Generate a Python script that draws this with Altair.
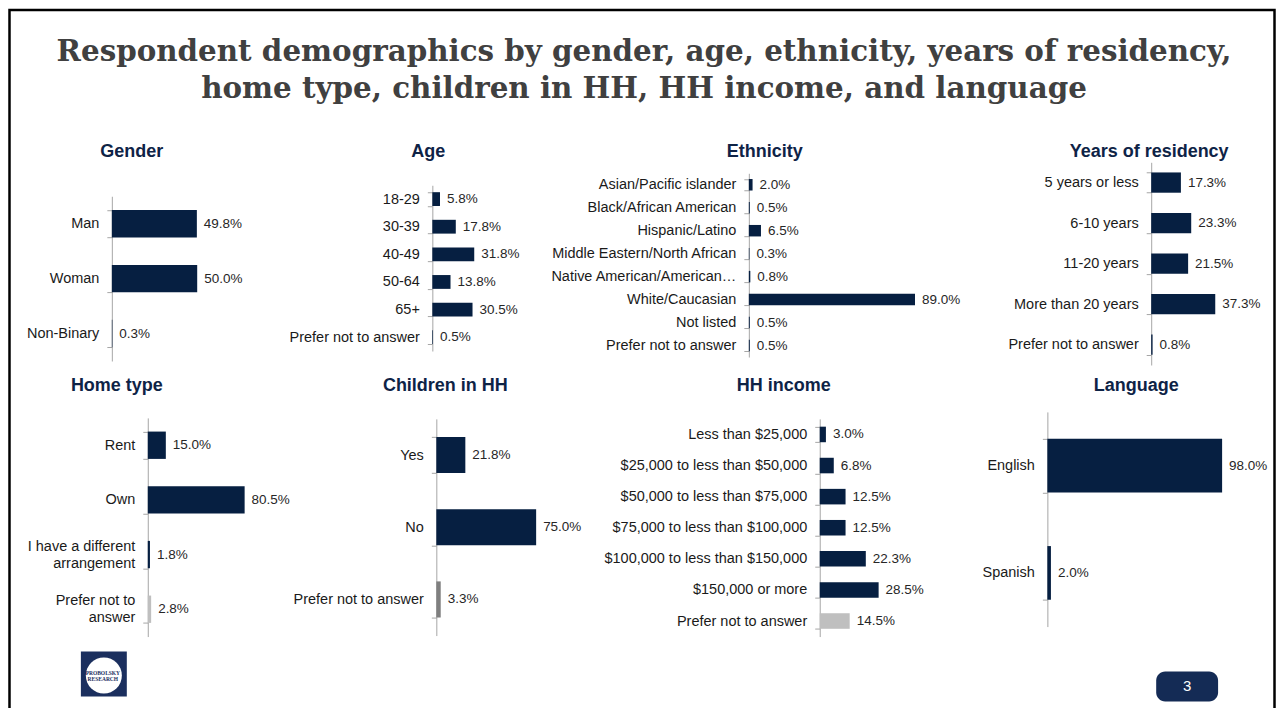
import altair as alt
import pandas as pd

# ---------------- data ----------------
gender_cats = ["Man", "Woman", "Non-Binary"]
gender_vals = [49.8, 50.0, 0.3]

age_cats = ["18-29", "30-39", "40-49", "50-64", "65+", "Prefer not to answer"]
age_vals = [5.8, 17.8, 31.8, 13.8, 30.5, 0.5]

eth_cats = ["Asian/Pacific islander", "Black/African American", "Hispanic/Latino",
            "Middle Eastern/North African", "Native American/American Indian",
            "White/Caucasian", "Not listed", "Prefer not to answer"]
eth_vals = [2.0, 0.5, 6.5, 0.3, 0.8, 89.0, 0.5, 0.5]

res_cats = ["5 years or less", "6-10 years", "11-20 years", "More than 20 years",
            "Prefer not to answer"]
res_vals = [17.3, 23.3, 21.5, 37.3, 0.8]

home_cats = ["Rent", "Own", "I have a different|arrangement", "Prefer not to|answer"]
home_vals = [15.0, 80.5, 1.8, 2.8]

kids_cats = ["Yes", "No", "Prefer not to answer"]
kids_vals = [21.8, 75.0, 3.3]

inc_cats = ["Less than $25,000", "$25,000 to less than $50,000",
            "$50,000 to less than $75,000", "$75,000 to less than $100,000",
            "$100,000 to less than $150,000", "$150,000 or more", "Prefer not to answer"]
inc_vals = [3.0, 6.8, 12.5, 12.5, 22.3, 28.5, 14.5]

lang_cats = ["English", "Spanish"]
lang_vals = [98.0, 2.0]

title_lines = ["Respondent demographics by gender, age, ethnicity, years of residency,",
               "home type, children in HH, HH income, and language"]

NAVY = "#061F41"
LGRAY = "#BFBFBF"
MGRAY = "#7F7F7F"
FONT = "Liberation Sans"
OX, OY = 8, 8
W, H = 1270, 700

dummy = pd.DataFrame({"d": [0]})


def panel(cats, vals, colors, title, ax, y0, y1, k, tx, ty, label_limit=260):
    df = pd.DataFrame({"cat": cats, "val": vals, "col": colors,
                       "lab": [f"{v:.1f}%" for v in vals]})
    y = alt.Y("cat:N", sort=cats, title=None,
              scale=alt.Scale(range=[y0 - OY, y1 - OY], paddingInner=0.5, paddingOuter=0.25),
              axis=alt.Axis(orient="left", offset=-(ax - OX), domainColor="#A6A6A6",
                            tickColor="#A6A6A6", tickSize=5, tickBand="extent",
                            labelPadding=8, labelFont=FONT, labelFontSize=14.5,
                            labelColor="#1a1a1a", labelLimit=label_limit,
                            labelExpr="split(datum.label, '|')", labelLineHeight=17,
                            labelOffset={"condition": {"test": "indexof(datum.label, '|') >= 0",
                                                       "value": -8.5}, "value": 0},
                            grid=False))
    x = alt.X("val:Q", scale=alt.Scale(domain=[0, 100], range=[ax - OX, ax - OX + 100 * k]),
              axis=None)
    bars = alt.Chart(df).mark_bar().encode(x=x, y=y, color=alt.Color("col:N", scale=None))
    labels = alt.Chart(df).mark_text(align="left", baseline="middle", dx=7, font=FONT,
                                     fontSize=13.5, color="#262626").encode(x=x, y=y, text="lab:N")
    ttl = alt.Chart(dummy).mark_text(align="center", baseline="alphabetic", font=FONT,
                                     fontSize=18, fontWeight="bold", color="#0E2346",
                                     text=title).encode(x=alt.value(tx - OX), y=alt.value(ty - OY))
    return alt.layer(bars, labels, ttl)


def cols(n, special=None):
    c = [NAVY] * n
    if special:
        for i, v in special.items():
            c[i] = v
    return c


p_gender = panel(gender_cats, gender_vals, cols(3), "Gender", 112, 196, 361, 1.71, 132, 157)
p_age = panel(age_cats, age_vals, cols(6), "Age", 433, 185, 351, 1.32, 429, 157)
p_eth = panel(eth_cats, eth_vals, cols(8), "Ethnicity", 750, 173, 357, 1.87, 766, 157,
              label_limit=190)
p_res = panel(res_cats, res_vals, cols(5), "Years of residency", 1153, 162, 365, 1.72, 1151, 157)
p_home = panel(home_cats, home_vals, cols(4, {3: LGRAY}), "Home type", 148, 418, 637, 1.205, 117, 391)
p_kids = panel(kids_cats, kids_vals, cols(3, {2: MGRAY}), "Children in HH", 437, 419, 636, 1.333, 446, 391)
p_inc = panel(inc_cats, inc_vals, cols(7, {6: LGRAY}), "HH income", 821, 419, 637, 2.07, 785, 391)
p_lang = panel(lang_cats, lang_vals, cols(2), "Language", 1049, 412, 627, 1.786, 1138, 391)

# ---------------- decorations ----------------
frame = alt.Chart(dummy).mark_rect(fillOpacity=0, stroke="black", strokeWidth=2.5).encode(
    x=alt.value(1.5), x2=alt.value(W - 1.5), y=alt.value(1.5), y2=alt.value(H + 20))

TFONT = "DejaVu Serif"
t1 = alt.Chart(dummy).mark_text(align="center", baseline="alphabetic", font=TFONT,
                                fontSize=29.4, fontWeight="bold", color="#404040",
                                text=title_lines[0]).encode(x=alt.value(645 - OX), y=alt.value(61 - OY))
t2 = alt.Chart(dummy).mark_text(align="center", baseline="alphabetic", font=TFONT,
                                fontSize=29.4, fontWeight="bold", color="#404040",
                                text=title_lines[1]).encode(x=alt.value(645 - OX), y=alt.value(98 - OY))

logo_box = alt.Chart(dummy).mark_rect(color="#1B2F5E").encode(
    x=alt.value(81 - OX), x2=alt.value(127 - OX), y=alt.value(652 - OY), y2=alt.value(697 - OY))
logo_circle = alt.Chart(dummy).mark_point(shape="circle", filled=True, color="white", opacity=1,
                                          size=1300).encode(x=alt.value(104 - OX), y=alt.value(676 - OY))
logo_t1 = alt.Chart(dummy).mark_text(align="center", baseline="alphabetic", font="Liberation Serif",
                                     fontSize=5.5, fontWeight="bold", color="#1B2F5E",
                                     text="PROBOLSKY").encode(x=alt.value(103 - OX), y=alt.value(675 - OY))
logo_t2 = alt.Chart(dummy).mark_text(align="center", baseline="alphabetic", font="Liberation Serif",
                                     fontSize=5.5, fontWeight="bold", color="#1B2F5E",
                                     text="RESEARCH").encode(x=alt.value(103 - OX), y=alt.value(682 - OY))

page_box = alt.Chart(dummy).mark_rect(color="#142B55", cornerRadius=9).encode(
    x=alt.value(1158 - OX), x2=alt.value(1220 - OX), y=alt.value(672 - OY), y2=alt.value(702 - OY))
page_num = alt.Chart(dummy).mark_text(align="center", baseline="middle", font=FONT, fontSize=15,
                                      color="white", text="3").encode(
    x=alt.value(1189 - OX), y=alt.value(687 - OY))

chart = alt.layer(
    frame, t1, t2,
    p_gender, p_age, p_eth, p_res, p_home, p_kids, p_inc, p_lang,
    logo_box, logo_circle, logo_t1, logo_t2, page_box, page_num,
).resolve_scale(x="independent", y="independent").properties(
    width=W, height=H, autosize=alt.AutoSizeParams(type="none"), padding=0,
    background="white"
).configure_view(stroke=None)

chart.save("out.html", embed_options={"renderer": "svg", "actions": False})
